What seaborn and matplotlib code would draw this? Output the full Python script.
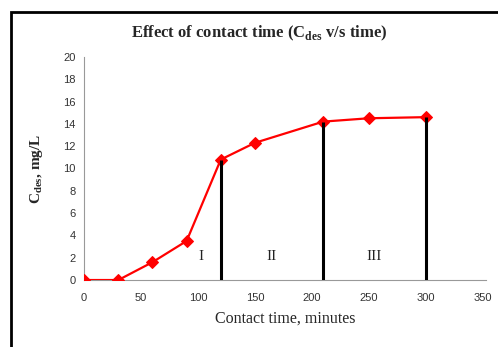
import matplotlib
matplotlib.use("Agg")
import matplotlib.pyplot as plt
import seaborn as sns
import pandas as pd
from matplotlib.patches import Rectangle

# data
time_min = [0, 30, 60, 90, 120, 150, 210, 250, 300]
c_des = [0.0, 0.0, 1.6, 3.5, 10.8, 12.3, 14.2, 14.5, 14.6]
stage_bounds = [120, 210, 300]
stage_labels = ["I", "II", "III"]
stage_label_x = [103, 165, 255]
stage_label_y = [2.1, 2.1, 2.1]
x_ticks = [0, 50, 100, 150, 200, 250, 300, 350]
y_ticks = [0, 2, 4, 6, 8, 10, 12, 14, 16, 18, 20]

df = pd.DataFrame({"time": time_min, "cdes": c_des})

sns.set_style("white")
plt.rcParams["font.family"] = ["Liberation Serif", "DejaVu Serif"]
plt.rcParams["mathtext.fontset"] = "custom"
plt.rcParams["mathtext.rm"] = "Liberation Serif"
plt.rcParams["mathtext.bf"] = "Liberation Serif:bold"

fig = plt.figure(figsize=(4.98, 3.47), dpi=100)
ax = fig.add_axes([0.169, 0.193, 0.807, 0.643])

sns.lineplot(data=df, x="time", y="cdes", color="#ff0000", linewidth=1.6,
             marker="D", markersize=6, markeredgecolor="#ff0000", ax=ax, zorder=3)

bound_vals = [c_des[time_min.index(b)] for b in stage_bounds]
ax.vlines(stage_bounds, -0.35, bound_vals, color="black", linewidth=2.2, zorder=4)

for lab, lx, ly in zip(stage_labels, stage_label_x, stage_label_y):
    ax.text(lx, ly, lab, fontsize=11, ha="center", va="center", color="#222222")

ax.set_xlim(0, 353)
ax.set_ylim(0, 20)
ax.set_xticks(x_ticks)
ax.set_yticks(y_ticks)
ax.tick_params(axis="both", length=0, labelsize=8, colors="#333333", pad=6)
for lbl in ax.get_xticklabels() + ax.get_yticklabels():
    lbl.set_family(["Liberation Sans", "DejaVu Sans"])
ax.tick_params(axis="x", pad=9)

sns.despine(ax=ax)
for side in ["left", "bottom"]:
    ax.spines[side].set_color("#999999")
    ax.spines[side].set_linewidth(0.8)

ax.set_xlabel("Contact time, minutes", fontsize=11.5, labelpad=6)
ax.set_ylabel(r"C$_{\mathbf{des}}$, mg/L", fontsize=11, fontweight="bold", labelpad=13)

fig.text(0.52, 0.905, r"Effect of contact time (C$_{\mathbf{des}}$ v/s time)",
         fontsize=12, fontweight="bold", ha="center", va="center")

fig.patches.append(Rectangle((0.022, -0.2), 1.2, 1.165, transform=fig.transFigure,
                             fill=False, edgecolor="black", linewidth=2.0))

fig.savefig("out.png", dpi=100)
